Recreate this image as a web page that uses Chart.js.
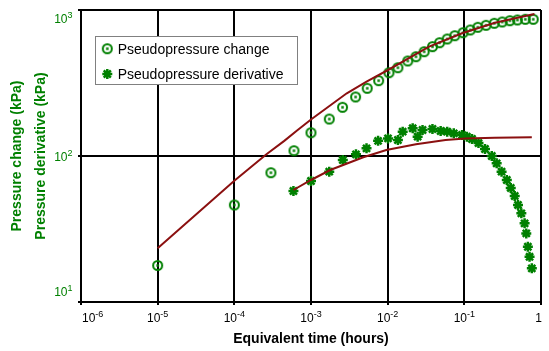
<!DOCTYPE html>
<html>
<head>
<meta charset="utf-8">
<script src="https://cdn.jsdelivr.net/npm/chart.js@4.4.0/dist/chart.umd.min.js"></script>
<style>
  html, body { margin: 0; padding: 0; background: #fff; }
  #wrap { width: 549px; height: 351px; }
</style>
</head>
<body>
<div id="wrap"><canvas id="pressureChart" width="549" height="351"></canvas></div>
<script>
// measured pseudopressure change (circles)
var changeTime = [1e-5, 1e-4, 3.0e-4, 6.0e-4, 1.0e-3, 1.73e-3, 2.58e-3, 3.82e-3, 5.41e-3, 7.63e-3,
  1.04e-2, 1.36e-2, 1.83e-2, 2.34e-2, 2.99e-2, 3.84e-2, 4.76e-2, 5.98e-2, 7.5e-2, 9.62e-2,
  0.1195, 0.150, 0.192, 0.246, 0.312, 0.392, 0.492, 0.624, 0.791];
var changeValues = [17.8, 46.2, 76.8, 108.7, 144.4, 179.2, 215.6, 253.6, 290.9, 328.0,
  372.0, 402.5, 447.5, 478.7, 518.1, 560.7, 597.0, 633.0, 666.8, 699.1,
  729.5, 761.2, 785.6, 810.8, 827.6, 844.8, 854.3, 863.8, 863.8];

// measured pseudopressure derivative (stars)
var derivTime = [5.9e-4, 1.0e-3, 1.73e-3, 2.6e-3, 3.86e-3, 5.3e-3, 7.5e-3, 1.01e-2, 1.36e-2, 1.57e-2,
  2.12e-2, 2.46e-2, 2.85e-2, 3.84e-2, 4.91e-2, 5.98e-2, 7.28e-2, 9.34e-2, 0.108, 0.126,
  0.153, 0.186, 0.228, 0.264, 0.306, 0.358, 0.403, 0.454, 0.501, 0.554,
  0.611, 0.643, 0.674, 0.709, 0.759];
var derivValues = [57.6, 67.4, 78.1, 93.9, 102.7, 112.9, 127.0, 132.0, 128.7, 146.7,
  154.8, 135.6, 150.7, 153.1, 148.3, 146.7, 143.0, 139.3, 135.6, 130.7,
  122.7, 111.7, 100.0, 89.1, 78.1, 68.5, 60.4, 53.2, 46.2, 40.5,
  34.6, 29.5, 23.9, 20.4, 17.0];

// model curves
var changeModelTime = [1e-5, 1e-4, 2.65e-4, 4.48e-4, 6.64e-4, 1.0e-3, 2.93e-3, 5.3e-3, 1.01e-2, 3.47e-2, 9.34e-2, 0.251, 0.822];
var changeModelValues = [23.3, 67.7, 103.2, 127.0, 150.0, 178.0, 268.9, 322.8, 388.2, 560.7, 692.5, 818.4, 938.9];
var derivModelTime = [5.9e-4, 1.0e-3, 1.78e-3, 4.81e-3, 9.6e-3, 2.34e-2, 5.69e-2, 0.103, 0.25, 0.759];
var derivModelValues = [58.5, 68.5, 80.2, 98.0, 109.9, 120.3, 128.7, 132.0, 133.5, 134.3];

var xTickValues = [1e-6, 1e-5, 1e-4, 1e-3, 1e-2, 1e-1, 1];
var xTickLabels = ['10^-6', '10^-5', '10^-4', '10^-3', '10^-2', '10^-1', '1'];
var yTickValues = [10, 100, 1000];
var yTickLabels = ['10^1', '10^2', '10^3'];
var seriesLabels = ['Pseudopressure change', 'Pseudopressure derivative'];

var GREEN = '#008000';
var MODEL = '#8b1010';
var FONT = "'Liberation Sans', Arial, sans-serif";

function toPoints(xs, ys) {
  return xs.map(function(x, i) { return { x: x, y: ys[i] }; });
}

function makeRingMarker() {
  var c = document.createElement('canvas');
  c.width = 13;
  c.height = 13;
  var g = c.getContext('2d');
  g.strokeStyle = GREEN;
  g.lineWidth = 2;
  g.beginPath();
  g.arc(6.5, 6.5, 4.5, 0, Math.PI * 2);
  g.stroke();
  g.fillStyle = GREEN;
  g.fillRect(5.25, 5.25, 2.5, 2.5);
  return c;
}
var ringMarker = makeRingMarker();

// "10^-6" style labels: base plus raised exponent
function drawPowerLabel(ctx, text, x, baseline, align, color) {
  var parts = text.split('^');
  var baseFont = '12px ' + FONT;
  var supFont = '9px ' + FONT;
  ctx.font = baseFont;
  var w1 = ctx.measureText(parts[0]).width;
  ctx.font = supFont;
  var w2 = parts[1] ? ctx.measureText(parts[1]).width : 0;
  var total = w1 + w2;
  var start = align === 'left' ? x : (align === 'right' ? x - total : x - total / 2);
  ctx.fillStyle = color;
  ctx.textAlign = 'left';
  ctx.textBaseline = 'alphabetic';
  ctx.font = baseFont;
  ctx.fillText(parts[0], start, baseline);
  if (parts[1]) {
    ctx.font = supFont;
    ctx.fillText(parts[1], start + w1, baseline - 5);
  }
}

var tickLabelPlugin = {
  id: 'tickLabels',
  afterDraw: function(chart) {
    var ctx = chart.ctx;
    var area = chart.chartArea;
    var xs = chart.scales.x;
    var ys = chart.scales.y;
    ctx.save();
    xTickValues.forEach(function(v, i) {
      var px = xs.getPixelForValue(v);
      var align = i === 0 ? 'left' : (i === xTickValues.length - 1 ? 'right' : 'center');
      var shift = (i === 0 || i === xTickValues.length - 1) ? 1 : 0;
      drawPowerLabel(ctx, xTickLabels[i], px + shift, area.bottom + 19.7, align, '#000');
    });
    yTickValues.forEach(function(v, i) {
      var py = ys.getPixelForValue(v);
      var baseline = py + 4.5;
      if (i === 0) baseline = area.bottom - 5.7;
      if (i === yTickValues.length - 1) baseline = area.top + 13.3;
      drawPowerLabel(ctx, yTickLabels[i], area.left - 8.5, baseline, 'right', GREEN);
    });
    ctx.restore();
  }
};

var boxLegendPlugin = {
  id: 'boxLegend',
  afterDraw: function(chart) {
    var ctx = chart.ctx;
    var area = chart.chartArea;
    var left = area.left + 14;
    var top = area.top + 26;
    var w = 202;
    var h = 48;
    ctx.save();
    ctx.fillStyle = '#fff';
    ctx.fillRect(left, top, w, h);
    ctx.strokeStyle = '#808080';
    ctx.lineWidth = 1;
    ctx.strokeRect(left + 0.5, top + 0.5, w, h);
    seriesLabels.forEach(function(label, i) {
      var ds = chart.data.datasets[i];
      var y = top + 12.7 + i * 25.3;
      ctx.strokeStyle = ds.borderColor;
      ctx.fillStyle = ds.backgroundColor;
      ctx.lineWidth = ds.borderWidth;
      Chart.helpers.drawPoint(ctx, {
        pointStyle: ds.pointStyle,
        radius: ds.pointRadius,
        borderWidth: ds.borderWidth,
        rotation: 0
      }, left + 12.3, y);
      ctx.fillStyle = '#000';
      ctx.font = '14px ' + FONT;
      ctx.textAlign = 'left';
      ctx.textBaseline = 'middle';
      ctx.fillText(label, left + 22.7, y + 1);
    });
    ctx.restore();
  }
};

var ctx = document.getElementById('pressureChart');
var pressureChart = new Chart(ctx, {
  type: 'scatter',
  data: {
    datasets: [{
      label: seriesLabels[0],
      data: toPoints(changeTime, changeValues),
      pointStyle: ringMarker,
      pointRadius: 6,
      borderColor: GREEN,
      backgroundColor: GREEN,
      borderWidth: 2,
      order: 2
    }, {
      label: seriesLabels[1],
      data: toPoints(derivTime, derivValues),
      pointStyle: 'star',
      pointRadius: 5,
      borderColor: GREEN,
      backgroundColor: GREEN,
      borderWidth: 2.5,
      order: 1
    }, {
      label: 'Change model',
      data: toPoints(changeModelTime, changeModelValues),
      showLine: true,
      pointRadius: 0,
      borderColor: MODEL,
      borderWidth: 2,
      tension: 0,
      order: 0
    }, {
      label: 'Derivative model',
      data: toPoints(derivModelTime, derivModelValues),
      showLine: true,
      pointRadius: 0,
      borderColor: MODEL,
      borderWidth: 2,
      tension: 0,
      order: 0
    }]
  },
  options: {
    responsive: false,
    animation: false,
    layout: { padding: { top: 10, right: 2.5, left: 0, bottom: 0 } },
    plugins: {
      legend: { display: false },
      tooltip: { enabled: false }
    },
    scales: {
      x: {
        type: 'logarithmic',
        min: 1e-6,
        max: 1,
        afterBuildTicks: function(scale) {
          scale.ticks = xTickValues.map(function(v) { return { value: v }; });
        },
        afterFit: function(scale) { scale.height = 49; },
        ticks: { display: false },
        grid: { color: '#000', lineWidth: 2, tickLength: 3 },
        border: { display: true, color: '#000', width: 2 },
        title: {
          display: true,
          text: 'Equivalent time (hours)',
          color: '#000',
          font: { family: FONT, size: 14, weight: 'bold' },
          padding: { top: 0, bottom: 3.6 }
        }
      },
      y: {
        type: 'logarithmic',
        min: 10,
        max: 1000,
        afterBuildTicks: function(scale) {
          scale.ticks = yTickValues.map(function(v) { return { value: v }; });
        },
        afterFit: function(scale) { scale.width = 81; },
        ticks: { display: false },
        grid: { color: '#000', lineWidth: 2, tickLength: 3 },
        border: { display: true, color: '#000', width: 2 },
        title: {
          display: true,
          text: ['Pressure change (kPa)', 'Pressure derivative (kPa)'],
          color: GREEN,
          font: { family: FONT, size: 14, weight: 'bold', lineHeight: 1.74 },
          padding: { top: 5.1, bottom: 0 }
        }
      }
    }
  },
  plugins: [tickLabelPlugin, boxLegendPlugin]
});
</script>
</body>
</html>
